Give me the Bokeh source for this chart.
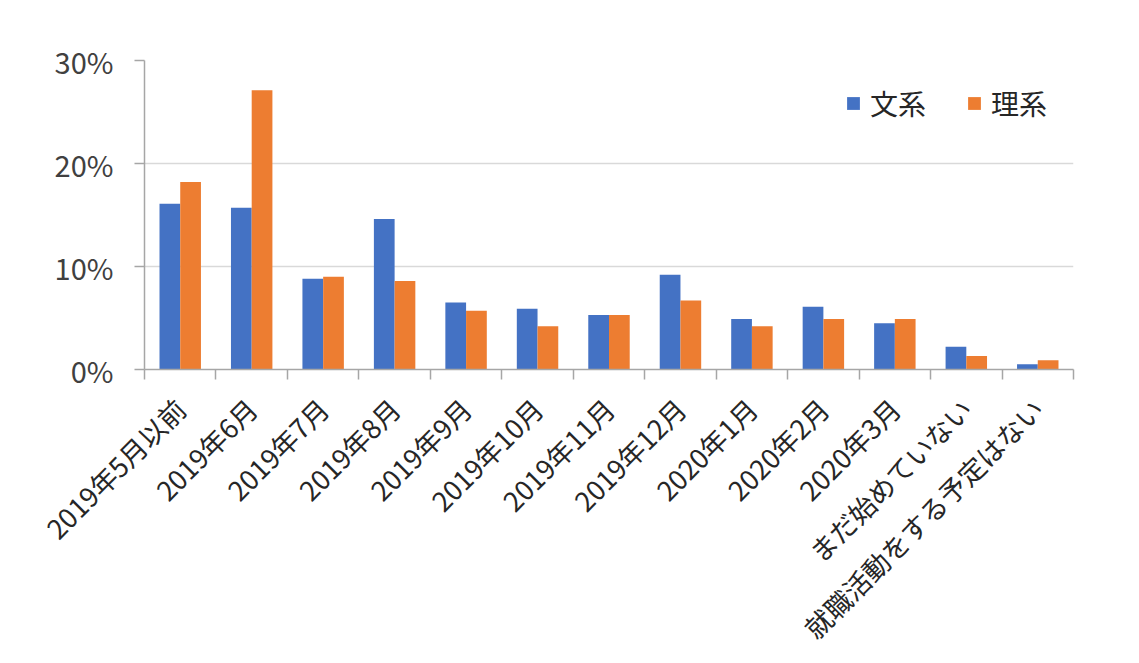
import math
from bokeh.plotting import figure
from bokeh.models import (Range1d, FixedTicker, LinearAxis, PrintfTickFormatter,
                          Legend, LegendItem, ColumnDataSource, Grid)
from bokeh.embed import file_html
from bokeh.resources import INLINE

categories = ["2019年5月以前", "2019年6月", "2019年7月", "2019年8月", "2019年9月",
              "2019年10月", "2019年11月", "2019年12月", "2020年1月", "2020年2月",
              "2020年3月", "まだ始めていない", "就職活動をする予定はない"]
bunkei = [16.1, 15.7, 8.8, 14.6, 6.5, 5.9, 5.3, 9.2, 4.9, 6.1, 4.5, 2.2, 0.5]
rikei = [18.2, 27.1, 9.0, 8.6, 5.7, 4.2, 5.3, 6.7, 4.2, 4.9, 4.9, 1.3, 0.9]
series_names = ["文系", "理系"]
y_ticks = [0, 10, 20, 30]

FONT = "Noto Sans CJK JP"
BLUE = "#4472C4"
ORANGE = "#ED7D31"
AXIS_COLOR = "#a6a6a6"

n = len(categories)
centers = [i + 0.5 for i in range(n)]
bar_w = 0.29
src = ColumnDataSource(dict(
    x1=[c - bar_w / 2 for c in centers],
    x2=[c + bar_w / 2 for c in centers],
    bunkei=bunkei, rikei=rikei))

p = figure(width=1139, height=663, x_range=Range1d(0, n), y_range=Range1d(0, y_ticks[-1]),
           output_backend="svg", toolbar_location=None,
           x_axis_type=None, y_axis_type=None,
           min_border_left=144, min_border_right=66, min_border_top=60, min_border_bottom=293)
p.outline_line_color = None
p.background_fill_color = "white"
p.border_fill_color = "white"

grid = Grid(dimension=1, ticker=FixedTicker(ticks=y_ticks),
            grid_line_color="#d9d9d9", grid_line_width=1.5)
p.add_layout(grid)

r1 = p.vbar(x="x1", top="bunkei", width=bar_w, source=src, fill_color=BLUE, line_color=None)
r2 = p.vbar(x="x2", top="rikei", width=bar_w, source=src, fill_color=ORANGE, line_color=None)

yaxis = LinearAxis(ticker=FixedTicker(ticks=y_ticks), formatter=PrintfTickFormatter(format="%d%%"))
yaxis.axis_line_color = AXIS_COLOR
yaxis.axis_line_width = 1.5
yaxis.major_tick_line_color = AXIS_COLOR
yaxis.major_tick_line_width = 1.5
yaxis.major_tick_out = 10
yaxis.major_tick_in = 0
yaxis.minor_tick_line_color = None
yaxis.major_label_standoff = 21
yaxis.major_label_text_font = FONT
yaxis.major_label_text_font_size = "29px"
yaxis.major_label_text_color = "#404040"
p.add_layout(yaxis, "left")

xaxis = LinearAxis(ticker=FixedTicker(ticks=centers, minor_ticks=list(range(n + 1))))
xaxis.major_label_overrides = {c: cat for c, cat in zip(centers, categories)}
xaxis.major_label_orientation = math.pi / 4
xaxis.axis_line_color = AXIS_COLOR
xaxis.axis_line_width = 1.5
xaxis.major_tick_line_color = None
xaxis.major_tick_out = 0
xaxis.major_tick_in = 0
xaxis.minor_tick_line_color = AXIS_COLOR
xaxis.minor_tick_line_width = 1.5
xaxis.minor_tick_out = 10
xaxis.minor_tick_in = 0
xaxis.major_label_standoff = 24
xaxis.major_label_text_font = FONT
xaxis.major_label_text_font_size = "27px"
xaxis.major_label_text_color = "#262626"
p.add_layout(xaxis, "below")

legend = Legend(items=[LegendItem(label=series_names[0], renderers=[r1]),
                       LegendItem(label=series_names[1], renderers=[r2])],
                orientation="horizontal", location=(701, 246),
                glyph_width=16, glyph_height=16, label_standoff=9, spacing=40,
                padding=0, margin=0, border_line_color=None, background_fill_alpha=0,
                label_text_font=FONT, label_text_font_size="28px",
                label_text_color="#262626")
p.add_layout(legend)

open("out.html", "w").write(file_html(p, INLINE))
